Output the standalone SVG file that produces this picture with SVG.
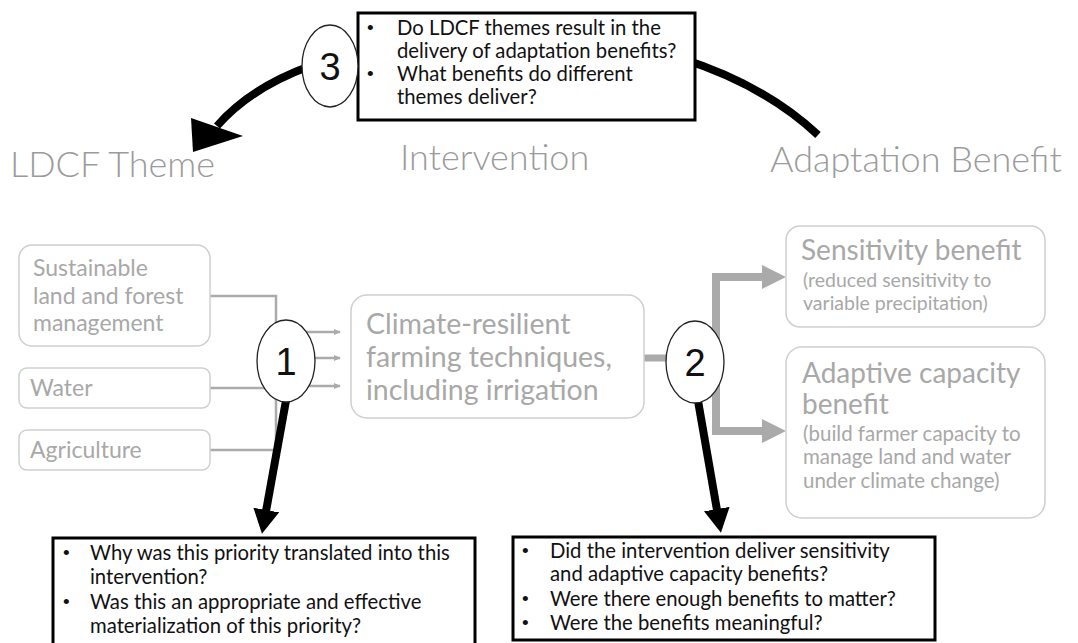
<svg xmlns="http://www.w3.org/2000/svg" width="1078" height="643" viewBox="0 0 1078 643">
<style>
  .head { font-family: Lato, "Noto Sans", sans-serif; font-size: 36px; font-weight: 300; fill: #9b9b9b; }
  .gbox { fill: #ffffff; stroke: #cfcfcf; stroke-width: 1.5; }
  .gtxt { font-family: Lato, "Noto Sans", sans-serif; fill: #a8a8a8; }
  .qbox { fill: #ffffff; stroke: #000000; stroke-width: 3; }
  .qtxt { font-family: Lato, "Noto Sans", sans-serif; font-size: 20.3px; fill: #111111; }
  .bul { font-family: "Liberation Sans", Arial, sans-serif; font-size: 19px; fill: #111111; }
  .num { fill: #ffffff; stroke: #222222; stroke-width: 1.3; }
  .numtxt { font-family: "Liberation Sans", Arial, sans-serif; font-size: 38px; fill: #111111; text-anchor: middle; }
  .thin { fill: none; stroke: #ababab; stroke-width: 2.5; }
  .thick { fill: none; stroke: #aaaaaa; stroke-width: 8; }
  .black { fill: none; stroke: #000000; stroke-width: 8; }
</style>
<defs>
  <marker id="smallArrow" markerWidth="8" markerHeight="8" refX="6" refY="4" orient="auto" markerUnits="userSpaceOnUse">
    <path d="M0,1 L7,4 L0,7 Z" fill="#ababab"/>
  </marker>
  <marker id="blackHead" markerWidth="30" markerHeight="30" refX="4" refY="13" orient="auto" markerUnits="userSpaceOnUse">
    <path d="M0,0 L24,13 L0,26 Z" fill="#000000"/>
  </marker>
</defs>

<!-- headings -->
<text class="head" x="10" y="177">LDCF Theme</text>
<text class="head" x="400" y="170">Intervention</text>
<text class="head" x="770" y="172">Adaptation Benefit</text>

<g id="connectors">
  <!-- theme to junction -->
  <polyline class="thin" points="210,296 276,296 276,450"/>
  <line class="thin" x1="210" y1="388" x2="276" y2="388"/>
  <line class="thin" x1="210" y1="450" x2="276" y2="450"/>
  <!-- junction to intervention -->
  <line class="thin" x1="300" y1="332" x2="340" y2="332" marker-end="url(#smallArrow)"/>
  <line class="thin" x1="300" y1="358" x2="340" y2="358" marker-end="url(#smallArrow)"/>
  <line class="thin" x1="300" y1="386" x2="340" y2="386" marker-end="url(#smallArrow)"/>
  <!-- intervention to benefits -->
  <line x1="644" y1="358" x2="680" y2="358" stroke="#aaaaaa" stroke-width="7"/>
  <polyline class="thick" points="765,277 716,277 716,431 765,431"/>
  <polygon points="762,265 786,277 762,289" fill="#aaaaaa"/>
  <polygon points="762,419 786,431 762,443" fill="#aaaaaa"/>
  <!-- black question arrows -->
  <line class="black" x1="287" y1="395" x2="265.5" y2="514" marker-end="url(#blackHead)"/>
  <line class="black" x1="697" y1="395" x2="717.5" y2="513" marker-end="url(#blackHead)"/>
  <!-- arc 3 -->
  <path class="black" d="M 680 58 Q 765 85 818 135"/>
  <path class="black" d="M 310 66 Q 250 88 217 126"/>
  <polygon points="193,152 191,118 243,136" fill="#000000"/>
</g>

<g id="theme-land">
  <rect class="gbox" x="19" y="245" width="191" height="101" rx="13"/>
  <text class="gtxt" font-size="23" x="33" y="276">Sustainable</text>
  <text class="gtxt" font-size="23" x="33" y="304">land and forest</text>
  <text class="gtxt" font-size="23" x="33" y="331">management</text>
</g>
<g id="theme-water">
  <rect class="gbox" x="19" y="368" width="191" height="40" rx="8"/>
  <text class="gtxt" font-size="23" x="30" y="396">Water</text>
</g>
<g id="theme-agriculture">
  <rect class="gbox" x="19" y="430" width="191" height="40" rx="8"/>
  <text class="gtxt" font-size="23" x="30" y="458">Agriculture</text>
</g>

<g id="intervention">
  <rect class="gbox" x="351" y="295" width="293" height="123" rx="16"/>
  <text class="gtxt" font-size="28.5" x="366" y="334">Climate-resilient</text>
  <text class="gtxt" font-size="28.5" x="366" y="367">farming techniques,</text>
  <text class="gtxt" font-size="28.5" x="366" y="400">including irrigation</text>
</g>

<g id="benefit-sensitivity">
  <rect class="gbox" x="786" y="226" width="259" height="101" rx="14"/>
  <text class="gtxt" font-size="28" x="801" y="260">Sensitivity benefit</text>
  <text class="gtxt" font-size="19.5" x="803" y="287">(reduced sensitivity to</text>
  <text class="gtxt" font-size="19.5" x="803" y="310">variable precipitation)</text>
</g>

<g id="benefit-adaptive">
  <rect class="gbox" x="786" y="347" width="259" height="171" rx="16"/>
  <text class="gtxt" font-size="28" x="802" y="383">Adaptive capacity</text>
  <text class="gtxt" font-size="28" x="802" y="414">benefit</text>
  <text class="gtxt" font-size="20.5" x="803" y="441">(build farmer capacity to</text>
  <text class="gtxt" font-size="20.5" x="803" y="464">manage land and water</text>
  <text class="gtxt" font-size="20.5" x="803" y="488">under climate change)</text>
</g>

<g id="question-3">
  <rect class="qbox" x="358" y="13" width="337" height="107"/>
  <text class="bul" x="367" y="34">•</text>
  <text class="qtxt" x="397" y="35">Do LDCF themes result in the</text>
  <text class="qtxt" x="397" y="58">delivery of adaptation benefits?</text>
  <text class="bul" x="367" y="80">•</text>
  <text class="qtxt" x="397" y="81">What benefits do different</text>
  <text class="qtxt" x="397" y="104">themes deliver?</text>
</g>

<g id="question-1">
  <rect class="qbox" x="53" y="538" width="422" height="108"/>
  <text class="bul" x="63" y="559">•</text>
  <text class="qtxt" x="90" y="560">Why was this priority translated into this</text>
  <text class="qtxt" x="90" y="584">intervention?</text>
  <text class="bul" x="63" y="608">•</text>
  <text class="qtxt" x="90" y="609">Was this an appropriate and effective</text>
  <text class="qtxt" x="90" y="633">materialization of this priority?</text>
</g>

<g id="question-2">
  <rect class="qbox" x="513" y="537" width="422" height="103"/>
  <text class="bul" x="522" y="557">•</text>
  <text class="qtxt" x="550" y="558">Did the intervention deliver sensitivity</text>
  <text class="qtxt" x="550" y="581">and adaptive capacity benefits?</text>
  <text class="bul" x="522" y="605">•</text>
  <text class="qtxt" x="550" y="606">Were there enough benefits to matter?</text>
  <text class="bul" x="522" y="629">•</text>
  <text class="qtxt" x="550" y="630">Were the benefits meaningful?</text>
</g>

<g id="marker-1">
  <ellipse class="num" cx="286" cy="361" rx="29" ry="41"/>
  <text class="numtxt" x="286" y="375">1</text>
</g>
<g id="marker-2">
  <ellipse class="num" cx="695" cy="362" rx="29" ry="41"/>
  <text class="numtxt" x="695" y="376">2</text>
</g>
<g id="marker-3">
  <ellipse class="num" cx="330" cy="66" rx="28" ry="41"/>
  <text class="numtxt" x="330" y="80">3</text>
</g>
</svg>
